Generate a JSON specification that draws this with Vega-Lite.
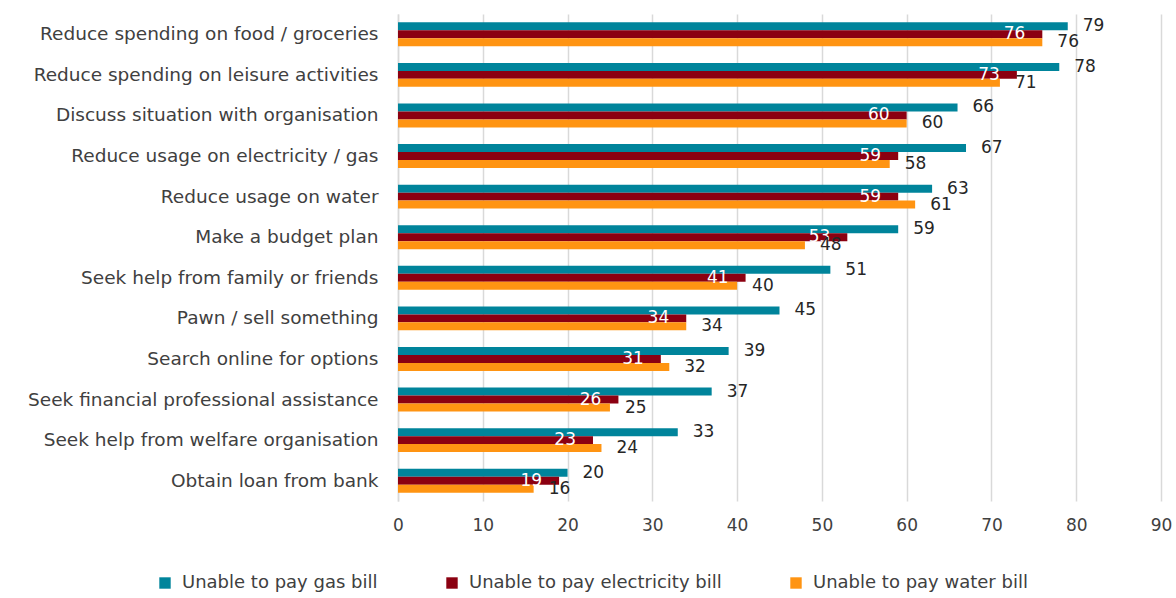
{
  "$schema": "https://vega.github.io/schema/vega-lite/v6.json",
  "width": 763,
  "height": 487,
  "autosize": {"type": "none"},
  "padding": {"left": 398, "top": 14, "right": 15, "bottom": 97},
  "background": "white",
  "config": {"view": {"stroke": null}, "font": "DejaVu Sans"},
  "data": {"values": [
    {"action": "Reduce spending on food / groceries", "series": "Unable to pay gas bill", "value": 79},
    {"action": "Reduce spending on food / groceries", "series": "Unable to pay electricity bill", "value": 76},
    {"action": "Reduce spending on food / groceries", "series": "Unable to pay water bill", "value": 76},
    {"action": "Reduce spending on leisure activities", "series": "Unable to pay gas bill", "value": 78},
    {"action": "Reduce spending on leisure activities", "series": "Unable to pay electricity bill", "value": 73},
    {"action": "Reduce spending on leisure activities", "series": "Unable to pay water bill", "value": 71},
    {"action": "Discuss situation with organisation", "series": "Unable to pay gas bill", "value": 66},
    {"action": "Discuss situation with organisation", "series": "Unable to pay electricity bill", "value": 60},
    {"action": "Discuss situation with organisation", "series": "Unable to pay water bill", "value": 60},
    {"action": "Reduce usage on electricity / gas", "series": "Unable to pay gas bill", "value": 67},
    {"action": "Reduce usage on electricity / gas", "series": "Unable to pay electricity bill", "value": 59},
    {"action": "Reduce usage on electricity / gas", "series": "Unable to pay water bill", "value": 58},
    {"action": "Reduce usage on water", "series": "Unable to pay gas bill", "value": 63},
    {"action": "Reduce usage on water", "series": "Unable to pay electricity bill", "value": 59},
    {"action": "Reduce usage on water", "series": "Unable to pay water bill", "value": 61},
    {"action": "Make a budget plan", "series": "Unable to pay gas bill", "value": 59},
    {"action": "Make a budget plan", "series": "Unable to pay electricity bill", "value": 53},
    {"action": "Make a budget plan", "series": "Unable to pay water bill", "value": 48},
    {"action": "Seek help from family or friends", "series": "Unable to pay gas bill", "value": 51},
    {"action": "Seek help from family or friends", "series": "Unable to pay electricity bill", "value": 41},
    {"action": "Seek help from family or friends", "series": "Unable to pay water bill", "value": 40},
    {"action": "Pawn / sell something", "series": "Unable to pay gas bill", "value": 45},
    {"action": "Pawn / sell something", "series": "Unable to pay electricity bill", "value": 34},
    {"action": "Pawn / sell something", "series": "Unable to pay water bill", "value": 34},
    {"action": "Search online for options", "series": "Unable to pay gas bill", "value": 39},
    {"action": "Search online for options", "series": "Unable to pay electricity bill", "value": 31},
    {"action": "Search online for options", "series": "Unable to pay water bill", "value": 32},
    {"action": "Seek financial professional assistance", "series": "Unable to pay gas bill", "value": 37},
    {"action": "Seek financial professional assistance", "series": "Unable to pay electricity bill", "value": 26},
    {"action": "Seek financial professional assistance", "series": "Unable to pay water bill", "value": 25},
    {"action": "Seek help from welfare organisation", "series": "Unable to pay gas bill", "value": 33},
    {"action": "Seek help from welfare organisation", "series": "Unable to pay electricity bill", "value": 23},
    {"action": "Seek help from welfare organisation", "series": "Unable to pay water bill", "value": 24},
    {"action": "Obtain loan from bank", "series": "Unable to pay gas bill", "value": 20},
    {"action": "Obtain loan from bank", "series": "Unable to pay electricity bill", "value": 19},
    {"action": "Obtain loan from bank", "series": "Unable to pay water bill", "value": 16}
  ]},
  "encoding": {
    "y": {
      "field": "action", "type": "nominal", "sort": null,
      "scale": {"paddingInner": 0.41, "paddingOuter": 0.205},
      "axis": {"title": null, "labelFontSize": 18.5, "labelPadding": 20, "ticks": false, "domainColor": "#d9d9d9", "domainWidth": 1.5, "labelColor": "#404040", "labelLimit": 400}
    },
    "yOffset": {
      "field": "series", "type": "nominal",
      "sort": ["Unable to pay gas bill", "Unable to pay electricity bill", "Unable to pay water bill"],
      "scale": {"paddingInner": 0, "paddingOuter": 0}
    },
    "x": {
      "field": "value", "type": "quantitative",
      "scale": {"domain": [0, 90], "nice": false},
      "axis": {"title": null, "values": [0, 10, 20, 30, 40, 50, 60, 70, 80, 90], "grid": true, "gridColor": "#d9d9d9", "gridWidth": 1.5, "domain": false, "ticks": false, "labelFlush": false, "labelFontSize": 17, "labelPadding": 16, "labelColor": "#404040"}
    }
  },
  "layer": [
    {
      "mark": {"type": "bar"},
      "encoding": {
        "color": {
          "field": "series", "type": "nominal",
          "sort": ["Unable to pay gas bill", "Unable to pay electricity bill", "Unable to pay water bill"],
          "scale": {"domain": ["Unable to pay gas bill", "Unable to pay electricity bill", "Unable to pay water bill"], "range": ["#00849B", "#8B0011", "#FF9412"]},
          "legend": {"title": null, "orient": "none", "legendX": -242, "legendY": 560, "direction": "horizontal", "labelFontSize": 18, "labelColor": "#404040", "labelLimit": 400, "symbolType": "square", "symbolSize": 130, "symbolStrokeWidth": 0, "columnPadding": 65, "labelOffset": 8}
        }
      }
    },
    {
      "transform": [{"filter": "datum.series === 'Unable to pay gas bill'"}],
      "mark": {"type": "text", "align": "left", "baseline": "middle", "dx": 15, "fontSize": 17, "color": "#262626"},
      "encoding": {"text": {"field": "value", "type": "quantitative"}}
    },
    {
      "transform": [{"filter": "datum.series === 'Unable to pay electricity bill'"}],
      "mark": {"type": "text", "align": "right", "baseline": "middle", "dx": -17, "fontSize": 17, "color": "white"},
      "encoding": {"text": {"field": "value", "type": "quantitative"}}
    },
    {
      "transform": [{"filter": "datum.series === 'Unable to pay water bill'"}],
      "mark": {"type": "text", "align": "left", "baseline": "middle", "dx": 15, "fontSize": 17, "color": "#262626"},
      "encoding": {"text": {"field": "value", "type": "quantitative"}}
    }
  ]
}
